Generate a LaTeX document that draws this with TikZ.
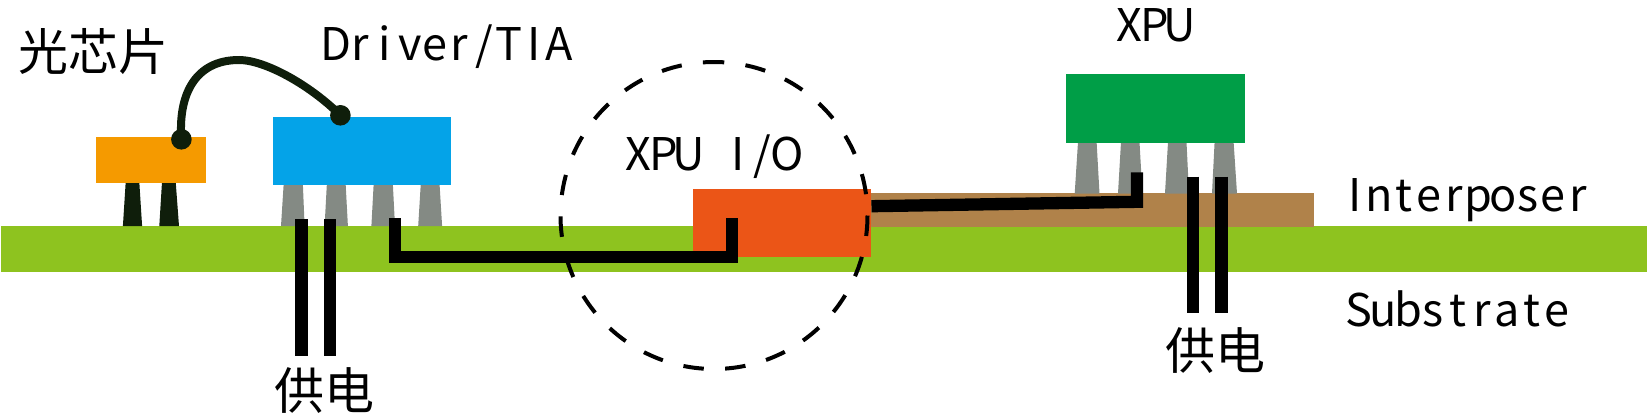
\documentclass[tikz,border=0pt]{standalone}
\usepackage{fontspec}
\setmainfont{Noto Sans CJK SC}
\newlength{\monow}
\setlength{\monow}{24.8pt}
\def\monoloop#1{\ifx#1\relax\else\makebox[\monow][c]{#1}\expandafter\monoloop\fi}
\newcommand{\monotxt}[1]{\monoloop#1\relax}
\definecolor{cbase}{HTML}{8EC31F}
\definecolor{cbrown}{HTML}{B0824A}
\definecolor{corange}{HTML}{F59A00}
\definecolor{cblue}{HTML}{04A3E8}
\definecolor{cred}{HTML}{EB5517}
\definecolor{cgreen}{HTML}{009E47}
\definecolor{cpin}{HTML}{848A84}
\definecolor{cdark}{HTML}{0F1E0B}
\tikzset{
  lbl/.style={anchor=base west,inner sep=0pt,font=\fontsize{45}{45}\selectfont},
  cjklbl/.style={anchor=base west,inner sep=0pt,font=\fontsize{50}{50}\selectfont},
  metal/.style={line width=12.3pt,black,line cap=butt,line join=miter},
  wirebond/.style={line width=8pt,cdark,line cap=round},
  ring/.style={line width=4pt,black,dash pattern=on 20.5pt off 21.4pt,dash phase=10.25pt}
}
\begin{document}
\begin{tikzpicture}[x=1pt,y=-1pt]
\useasboundingbox (0,0) rectangle (1647,418);
% substrate and interposer
\fill[cbase] (1,226) rectangle (1647,271.7);
\fill[cbrown] (860,193.3) rectangle (1313.7,226.7);
% pins, photonic chip
\fill[cdark] (125.7,182) -- (139.3,182) -- (142.1,226) -- (122.9,226) -- cycle;
\fill[cdark] (162,182) -- (175.7,182) -- (179,226) -- (159.3,226) -- cycle;
% pins, driver
\fill[cpin] (283.6,185) -- (302.9,185) -- (304.6,226) -- (281,226) -- cycle;
\fill[cpin] (326.8,185) -- (345.7,185) -- (347.9,226) -- (324.6,226) -- cycle;
\fill[cpin] (373.6,185) -- (392.9,185) -- (395,226) -- (371.4,226) -- cycle;
\fill[cpin] (420.7,185) -- (439.6,185) -- (442.1,226) -- (418.2,226) -- cycle;
% pins, XPU
\fill[cpin] (1078,142) -- (1096.6,142) -- (1099.5,193.5) -- (1074.7,193.5) -- cycle;
\fill[cpin] (1121,142) -- (1139.5,142) -- (1142.4,193.5) -- (1118,193.5) -- cycle;
\fill[cpin] (1168,142) -- (1186.5,142) -- (1189,193.5) -- (1165,193.5) -- cycle;
\fill[cpin] (1214.6,142) -- (1233.6,142) -- (1237,193.5) -- (1212,193.5) -- cycle;
% chips
\fill[corange] (96,137) rectangle (206,182.7);
\fill[cblue] (272.5,117) rectangle (451,185.3);
\fill[cred] (693.3,188.7) rectangle (871.3,257);
\fill[cgreen] (1066.4,74) rectangle (1245,142.7);
% dashed ring
\coordinate (ringtop) at (714,62);
\draw[ring] (ringtop) arc (-90:270:153.5);
% wire bond
\coordinate (padA) at (181.4,139.3);
\coordinate (padB) at (340.4,115.3);
\draw[wirebond] (padA) .. controls (178,95) and (195,60) .. (239,60)
  .. controls (265,60) and (310,85) .. (padB);
\fill[cdark] (padA) circle (10.3);
\fill[cdark] (padB) circle (10.3);
% traces
\coordinate (trA) at (395,218.3);
\coordinate (trB) at (395,257);
\coordinate (trC) at (732,257);
\coordinate (trD) at (732,218.3);
\draw[metal] (trA) -- (trB) -- (trC) -- (trD);
\coordinate (trE) at (871.5,206.2);
\coordinate (trF) at (1137,201.8);
\coordinate (trG) at (1137,172.3);
\draw[metal] (trE) -- (trF) -- (trG);
% power lines
\coordinate (pa1) at (301.6,219); \coordinate (pa2) at (301.6,355.7);
\coordinate (pb1) at (330.2,219); \coordinate (pb2) at (330.2,355.7);
\coordinate (pc1) at (1193,176.7); \coordinate (pc2) at (1193,313.3);
\coordinate (pd1) at (1221.6,176.7); \coordinate (pd2) at (1221.6,313.3);
\draw[metal] (pa1) -- (pa2);
\draw[metal] (pb1) -- (pb2);
\draw[metal] (pc1) -- (pc2);
\draw[metal] (pd1) -- (pd2);
% labels
\node[cjklbl] (tchip) at (18,70.5) {光芯片};
\node[lbl] (tdrv) at (323,60) {\monotxt{Driver/TIA}};
\node[lbl] (tio) at (626,170.7) {\monotxt{XPU~I/O}};
\node[lbl] (txpu) at (1117,41.7) {\monotxt{XPU}};
\node[lbl] (tint) at (1342,211.7) {\monotxt{Interposer}};
\node[lbl] (tsub) at (1346,326) {\monotxt{Substrate}};
\node[cjklbl] (tpa) at (274,409.5) {供电};
\node[cjklbl] (tpb) at (1165,369.5) {供电};
\end{tikzpicture}
\end{document}
